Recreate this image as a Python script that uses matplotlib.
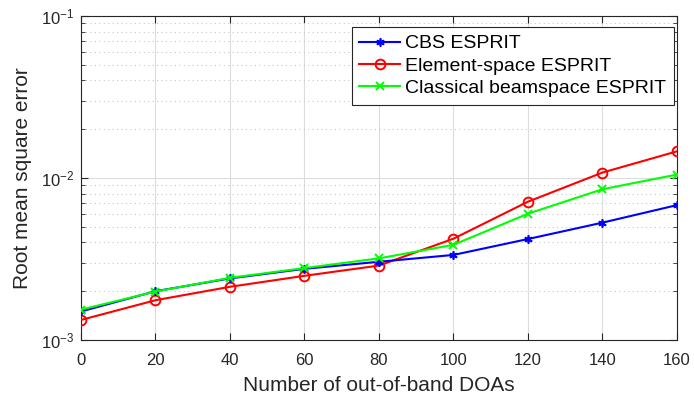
import numpy as np
import matplotlib.pyplot as plt

# data
doas = [0, 20, 40, 60, 80, 100, 120, 140, 160]
cbs_esprit = [1.50e-3, 2.00e-3, 2.40e-3, 2.75e-3, 3.04e-3, 3.35e-3, 4.20e-3, 5.30e-3, 6.80e-3]
element_esprit = [1.33e-3, 1.76e-3, 2.13e-3, 2.49e-3, 2.88e-3, 4.22e-3, 7.14e-3, 1.08e-2, 1.46e-2]
classical_esprit = [1.54e-3, 1.99e-3, 2.42e-3, 2.78e-3, 3.19e-3, 3.87e-3, 6.02e-3, 8.52e-3, 1.05e-2]
xticks = [0, 20, 40, 60, 80, 100, 120, 140, 160]

plt.rcParams['font.family'] = ['Liberation Sans', 'DejaVu Sans']

fig = plt.figure(figsize=(6.94, 3.98), dpi=100)
ax = fig.add_axes([0.1167, 0.1457, 0.8588, 0.8143])

ax.plot(doas, cbs_esprit, color='#0000ff', lw=1.5, marker=(6, 2, 0), ms=6,
        mew=1.2, label='CBS ESPRIT', zorder=4)
ax.plot(doas, element_esprit, color='#ff0000', lw=1.5, marker='o', ms=7,
        mfc='none', mew=1.4, label='Element-space ESPRIT', zorder=3)
ax.plot(doas, classical_esprit, color='#00ff00', lw=1.5, marker='x', ms=6,
        mew=1.4, label='Classical beamspace ESPRIT', zorder=5)

ax.set_yscale('log')
ax.set_xlim(0, 160)
ax.set_ylim(1e-3, 1e-1)
ax.set_xticks(xticks)

ax.grid(True, which='major', color='#dcdcdc', lw=0.8, ls='-')
ax.grid(True, which='minor', axis='y', color='#c8c8c8', lw=0.8, ls=(0, (1, 3)))
ax.set_axisbelow(True)

ax.tick_params(which='both', direction='in', top=True, right=True,
               labelsize=12, colors='#262626')
ax.tick_params(which='major', length=5)
ax.tick_params(which='minor', length=3)
ax.tick_params(axis='x', which='major', pad=9)
ax.tick_params(axis='y', which='major', pad=5)
for s in ax.spines.values():
    s.set_color('#262626')
    s.set_linewidth(0.8)

ax.set_xlabel('Number of out-of-band DOAs', fontsize=15, color='#262626', labelpad=6)
ax.set_ylabel('Root mean square error', fontsize=15, color='#262626', labelpad=6)

leg = ax.legend(loc='upper right', bbox_to_anchor=(0.995, 0.966), fontsize=14,
                fancybox=False, framealpha=1, edgecolor='#262626', borderpad=0.4,
                labelspacing=0.25, handlelength=2.1, handletextpad=0.25,
                borderaxespad=0)
leg.get_frame().set_linewidth(0.8)

fig.savefig('out.png', dpi=100)
